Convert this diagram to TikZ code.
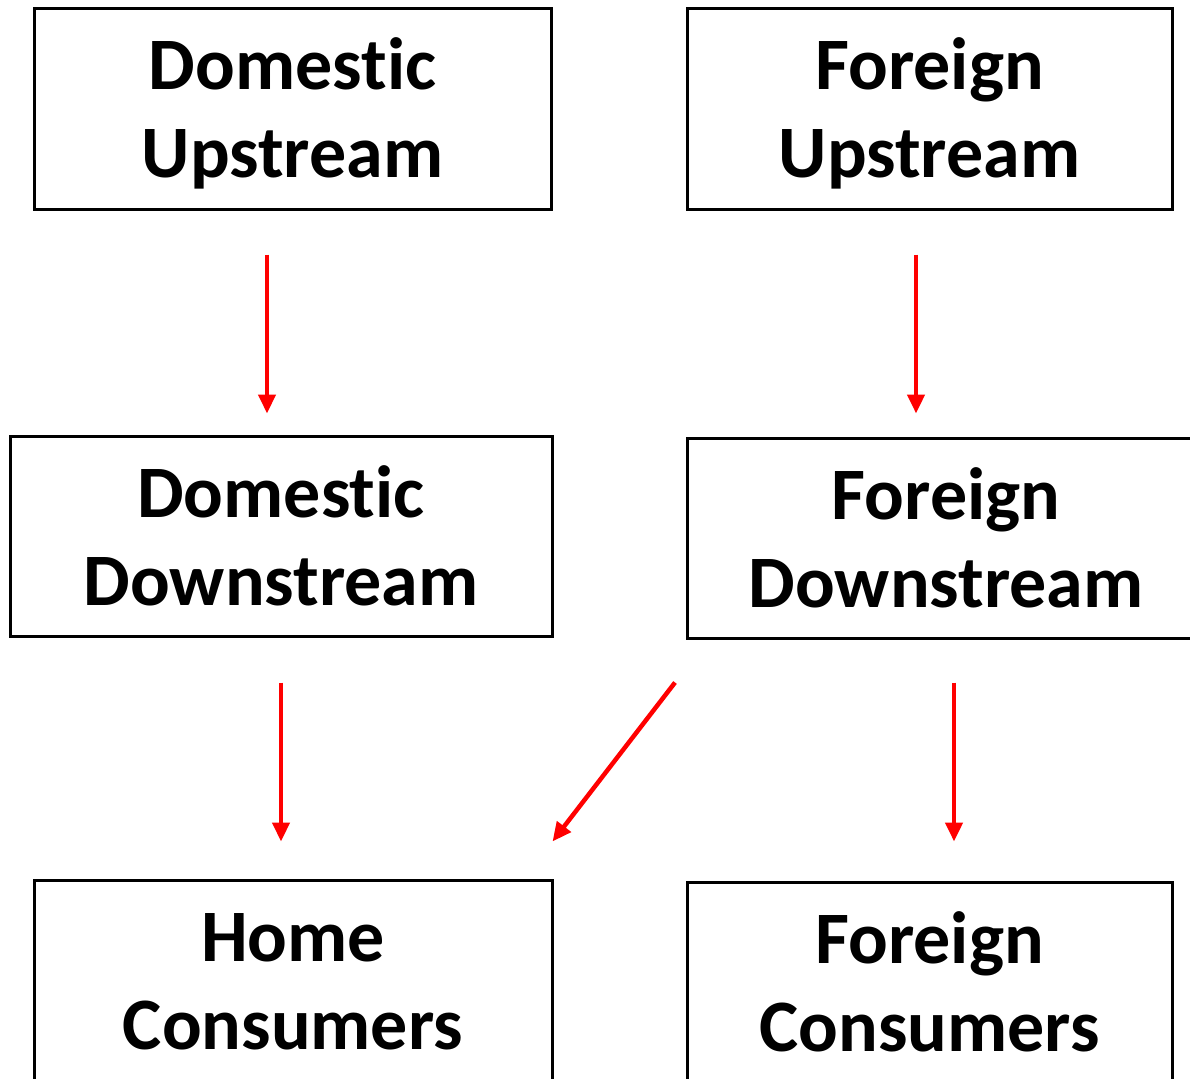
\documentclass[tikz,border=0pt]{standalone}
\usepackage{fontspec}
\setmainfont{Carlito}[Ligatures=NoCommon]
\usetikzlibrary{arrows.meta}
\begin{document}
\begin{tikzpicture}[x=1pt,y=-1pt,
  box/.style={draw=black,line width=3pt,minimum height=200pt,inner sep=0pt},
  txt/.style={align=center,inner sep=0pt,font=\fontsize{74}{88}\selectfont\bfseries},
  arr/.style={draw=red,line width=4.5pt,-{Triangle[width=17pt,length=19pt]}}]
\useasboundingbox (0,0) rectangle (1190,1078);
\begin{scope}
\clip (0,0) rectangle (1190,1078);
\node[box,minimum width=517pt] (dU) at (292.5,109) {};
\node[box,minimum width=485pt] (fU) at (929.5,109) {};
\node[box,minimum width=542pt] (dD) at (281,536) {};
\node[box,minimum width=518pt] (fD) at (946,538) {};
\node[box,minimum width=518pt] (hC) at (293,980) {};
\node[box,minimum width=485pt] (fC) at (929.5,982) {};
\end{scope}
\node[txt] (tdU) at ([yshift=-7.4pt]dU.center) {Domest\kern0pt ic\strut\\Upstream\strut};
\node[txt] (tfU) at ([yshift=-7.4pt]fU.center) {Foreign\strut\\Upstream\strut};
\node[txt] (tdD) at ([yshift=-7.4pt]dD.center) {Domest\kern0pt ic\strut\\Downstream\strut};
\node[txt] (tfD) at ([yshift=-7.4pt]fD.center) {Foreign\strut\\Downstream\strut};
\node[txt] (thC) at ([yshift=-7.4pt]hC.center) {Home\strut\\Consumers\strut};
\node[txt] (tfC) at ([yshift=-7.4pt]fC.center) {Foreign\strut\\Consumers\strut};
\draw[arr] ([xshift=-25.5pt,yshift=-44pt]dU.south) -- ([xshift=-14pt,yshift=21pt]dD.north);
\draw[arr] ([xshift=-13.5pt,yshift=-44pt]fU.south) -- ([xshift=-30pt,yshift=23pt]fD.north);
\draw[arr] ([yshift=-45pt]dD.south) -- ([xshift=-12pt,yshift=37pt]hC.north);
\draw[arr] ([xshift=-271pt,yshift=-43pt]fD.south) -- ([xshift=-1pt,yshift=37pt]hC.north east);
\draw[arr] ([xshift=8pt,yshift=-43pt]fD.south) -- ([xshift=24.5pt,yshift=39pt]fC.north);
\end{tikzpicture}
\end{document}
